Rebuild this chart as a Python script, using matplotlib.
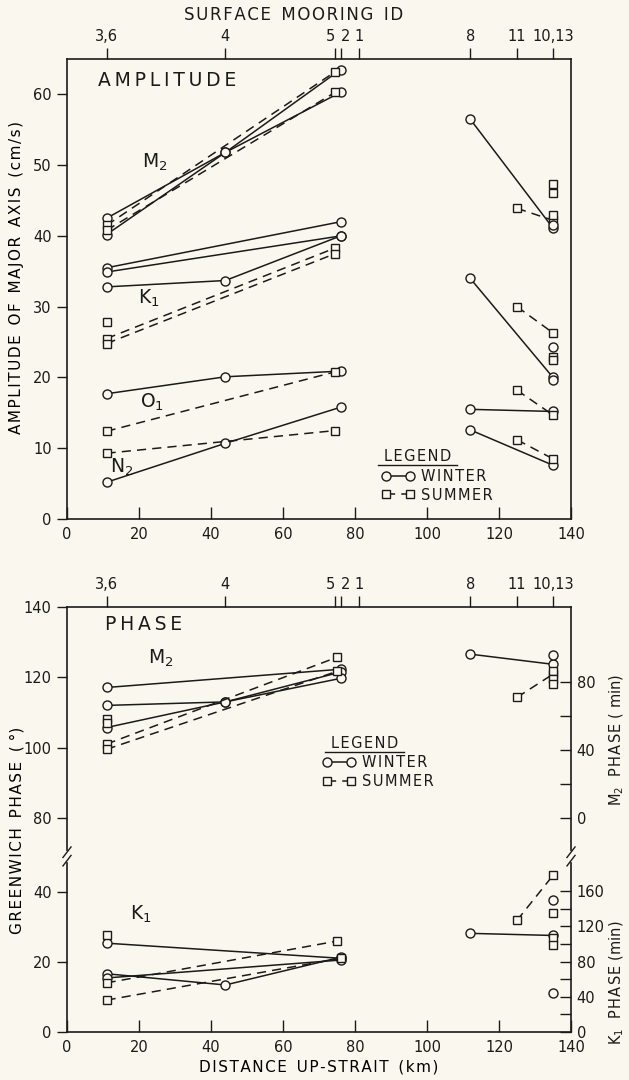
import matplotlib
matplotlib.use("Agg")
import matplotlib.pyplot as plt

# ---------------- data ----------------
mooring_ids = ["3,6", "4", "5", "2", "1", "8", "11", "10,13"]
mooring_km = [11, 44, 74.5, 76, 81, 112, 125, 135]

# Amplitude (cm/s) -- winter lines (x km, y cm/s)
amp_winter_lines = [
    ([11, 44, 76], [42.5, 51.8, 63.5]),
    ([11, 44, 76], [40.2, 51.8, 60.3]),
    ([11, 76], [35.5, 42.0]),
    ([11, 76], [34.9, 40.0]),
    ([11, 44, 76], [32.8, 33.7, 40.0]),
    ([11, 44, 76], [17.7, 20.1, 20.9]),
    ([11, 44, 76], [5.2, 10.7, 15.8]),
    ([112, 135], [56.5, 41.1]),
    ([112, 135], [34.0, 20.0]),
    ([112, 135], [15.5, 15.2]),
    ([112, 135], [12.6, 7.6]),
]
amp_winter_pts_x = [135, 135, 135]
amp_winter_pts_y = [41.5, 24.3, 19.7]

amp_summer_lines = [
    ([11, 74.5], [41.5, 63.2]),
    ([11, 74.5], [40.8, 60.3]),
    ([11, 74.5], [25.5, 38.3]),
    ([11, 74.5], [24.8, 37.5]),
    ([11, 74.5], [12.4, 20.8]),
    ([11, 74.5], [9.3, 12.5]),
    ([125, 135], [43.9, 42.2]),
    ([125, 135], [30.0, 26.3]),
    ([125, 135], [18.2, 14.7]),
    ([125, 135], [11.2, 8.5]),
]
amp_summer_pts_x = [11, 135, 135, 135, 135, 135]
amp_summer_pts_y = [27.8, 47.4, 46.0, 42.9, 22.9, 22.5]

# Greenwich phase (deg) -- M2 (upper part of broken axis)
m2_winter_lines = [
    ([11, 76], [117.1, 122.3]),
    ([11, 44, 76], [112.0, 113.0, 121.5]),
    ([11, 44, 76], [105.7, 113.0, 119.7]),
    ([112, 135], [126.6, 123.7]),
]
m2_winter_pts_x = [135]
m2_winter_pts_y = [126.3]
m2_summer_lines = [
    ([11, 75], [101.0, 125.7]),
    ([11, 75], [99.5, 121.7]),
    ([125, 135], [114.3, 120.9]),
]
m2_summer_pts_x = [11, 11, 135, 135, 135]
m2_summer_pts_y = [108.0, 107.0, 121.7, 119.4, 118.0]

# Greenwich phase (deg) -- K1 (lower part of broken axis)
k1_winter_lines = [
    ([11, 76], [25.3, 21.0]),
    ([11, 44, 76], [16.6, 13.4, 21.3]),
    ([11, 76], [15.4, 20.5]),
    ([112, 135], [28.1, 27.5]),
]
k1_winter_pts_x = [135, 135]
k1_winter_pts_y = [37.5, 11.1]
k1_summer_lines = [
    ([11, 75], [14.0, 25.9]),
    ([11, 76], [9.1, 21.0]),
    ([125, 135], [31.8, 44.6]),
]
k1_summer_pts_x = [11, 135, 135, 135]
k1_summer_pts_y = [27.6, 33.8, 26.7, 24.7]

x_ticks = [0, 20, 40, 60, 80, 100, 120, 140]
amp_ticks = [0, 10, 20, 30, 40, 50, 60]
phase_low_ticks = [0, 20, 40]
phase_up_ticks = [80, 100, 120, 140]
m2_min_ticks = [0, 20, 40, 60, 80]
k1_min_ticks = [0, 20, 40, 60, 80, 100, 120, 140, 160]

# ---------------- style ----------------
BG = "#faf8ee"
INK = "#1a1a1a"
FONT = "DejaVu Sans"
plt.rcParams["font.family"] = [FONT]
plt.rcParams["text.color"] = INK
plt.rcParams["axes.edgecolor"] = INK
plt.rcParams["xtick.color"] = INK
plt.rcParams["ytick.color"] = INK

HAIR = "\u200a"
THIN = "\u2009"


def spaced(s, sep=HAIR):
    return sep.join(s)


OFF = 19.0        # upper part of broken phase axis shifted down by this amount
BREAK = 50.0      # plotted position of the break
M2_DEG_PER_MIN = 360.0 / (12.42 * 60)
K1_DEG_PER_MIN = 360.0 / (23.93 * 60)

W_STYLE = dict(color=INK, lw=1.1, ls="-", marker="o", ms=6.5, mfc=BG, mec=INK, mew=1.0)
S_STYLE = dict(color=INK, lw=1.1, ls=(0, (6, 4)), marker="s", ms=5.3, mfc=BG, mec=INK, mew=1.0)
W_PT = dict(ls="none", marker="o", ms=6.5, mfc=BG, mec=INK, mew=1.0)
S_PT = dict(ls="none", marker="s", ms=5.3, mfc=BG, mec=INK, mew=1.0)

fig = plt.figure(figsize=(6.29, 10.80), dpi=100, facecolor=BG)
ax1 = fig.add_axes([0.1065, 0.5194, 0.8013, 0.4260], facecolor=BG)
ax2 = fig.add_axes([0.1065, 0.0444, 0.8013, 0.3935], facecolor=BG)

for ax in (ax1, ax2):
    for sp in ax.spines.values():
        sp.set_linewidth(1.2)
    ax.set_xlim(0, 140)
    ax.set_xticks(x_ticks)
    ax.set_xticklabels([str(t) for t in x_ticks], fontsize=10.5)
    ax.tick_params(axis="x", direction="in", length=9, width=1.0, pad=6)
    ax.tick_params(axis="y", direction="out", length=7, width=1.0, labelsize=10.5, pad=4)
    # mooring axis on top
    top = ax.secondary_xaxis("top")
    top.set_xticks(mooring_km)
    top.set_xticklabels(mooring_ids, fontsize=10.5)
    top.tick_params(direction="out", length=8, width=1.0, pad=3)
    for lab, mid in zip(top.get_xticklabels(), mooring_ids):
        if mid == "5":
            lab.set_ha("right")
        elif mid == "2":
            lab.set_ha("left")
    top.spines["top"].set_visible(False)

fig.text(0.467, 0.986, spaced("SURFACE") + "  " + spaced("MOORING") + "  " + spaced("ID"),
         fontsize=12, ha="center", va="center")

# ---------------- amplitude panel ----------------
ax1.set_ylim(0, 65)
ax1.set_yticks(amp_ticks)
for i, (x, y) in enumerate(amp_winter_lines):
    ax1.plot(x, y, label="WINTER" if i == 0 else None, **W_STYLE)
for i, (x, y) in enumerate(amp_summer_lines):
    ax1.plot(x, y, label="SUMMER" if i == 0 else None, **S_STYLE)
ax1.plot(amp_winter_pts_x, amp_winter_pts_y, **W_PT)
ax1.plot(amp_summer_pts_x, amp_summer_pts_y, **S_PT)
ax1.set_ylabel("  ".join(spaced(w) for w in "AMPLITUDE OF MAJOR AXIS (cm/s)".split()),
               fontsize=11, labelpad=5)
ax1.yaxis.set_label_coords(-0.085, 0.524)
ax1.text(0.062, 0.954, spaced("AMPLITUDE", THIN), transform=ax1.transAxes, fontsize=13.5,
         va="center", ha="left")
ax1.text(20.8, 50.4, r"M$_2$", fontsize=13.5, va="center")
ax1.text(19.7, 31.2, r"K$_1$", fontsize=13.5, va="center")
ax1.text(20.3, 16.5, r"O$_1$", fontsize=13.5, va="center")
ax1.text(12.0, 7.3, r"N$_2$", fontsize=13.5, va="center")

# ---------------- phase panel ----------------
ax2.set_ylim(0, 140 - OFF)
ax2.set_yticks(phase_low_ticks + [t - OFF for t in phase_up_ticks])
ax2.set_yticklabels([str(t) for t in phase_low_ticks + phase_up_ticks])
for i, (x, y) in enumerate(m2_winter_lines):
    ax2.plot(x, [v - OFF for v in y], label="WINTER" if i == 0 else None, **W_STYLE)
for i, (x, y) in enumerate(m2_summer_lines):
    ax2.plot(x, [v - OFF for v in y], label="SUMMER" if i == 0 else None, **S_STYLE)
for x, y in k1_winter_lines:
    ax2.plot(x, y, **W_STYLE)
for x, y in k1_summer_lines:
    ax2.plot(x, y, **S_STYLE)
ax2.plot(m2_winter_pts_x, [v - OFF for v in m2_winter_pts_y], **W_PT)
ax2.plot(m2_summer_pts_x, [v - OFF for v in m2_summer_pts_y], **S_PT)
ax2.plot(k1_winter_pts_x, k1_winter_pts_y, **W_PT)
ax2.plot(k1_summer_pts_x, k1_summer_pts_y, **S_PT)
ax2.set_ylabel(spaced("GREENWICH") + "  " + spaced("PHASE") + "  ( °)", fontsize=11, labelpad=5)
ax2.yaxis.set_label_coords(-0.085, 0.475)
ax2.set_xlabel(spaced("DISTANCE") + "  " + spaced("UP-STRAIT") + "  " + spaced("(km)"),
               fontsize=11, labelpad=3)
ax2.text(0.075, 0.958, spaced("PHASE", THIN), transform=ax2.transAxes, fontsize=13.5,
         va="center", ha="left")
ax2.text(22.5, 125.5 - OFF, r"M$_2$", fontsize=13.5, va="center")
ax2.text(17.5, 33.5, r"K$_1$", fontsize=13.5, va="center")

# right-hand minute scales
ax2r = ax2.twinx()
ax2r.set_ylim(ax2.get_ylim())
m2_pos = [80 - OFF + m * M2_DEG_PER_MIN for m in m2_min_ticks]
k1_pos = [m * K1_DEG_PER_MIN for m in k1_min_ticks]
ax2r.set_yticks(m2_pos + k1_pos)
ax2r.set_yticklabels([str(m) if m % 40 == 0 else "" for m in m2_min_ticks] +
                     [str(m) if m % 40 == 0 else "" for m in k1_min_ticks], fontsize=10.5)
ax2r.tick_params(axis="y", direction="in", length=8, width=1.0, pad=4)
for sp in ax2r.spines.values():
    sp.set_visible(False)
fig.text(0.981, 0.315, r"M$_2$  " + spaced("PHASE") + " ( min)", rotation=90, fontsize=10.5,
         ha="center", va="center")
fig.text(0.981, 0.090, r"K$_1$  " + spaced("PHASE") + " (min)", rotation=90, fontsize=10.5,
         ha="center", va="center")

# axis break marks
for xa in (0.0, 1.0):
    ax2.plot([xa, xa], [BREAK - 0.9, BREAK + 0.9], transform=ax2.get_yaxis_transform(),
             color=BG, lw=3, clip_on=False, zorder=5)
    for d in (-1.2, 1.2):
        ax2.plot([xa - 0.008, xa + 0.008], [BREAK + d - 1.5, BREAK + d + 1.5],
                 transform=ax2.get_yaxis_transform(), color=INK, lw=1.0, clip_on=False, zorder=6)


# ---------------- legends ----------------
def add_legend(ax, x_title, y_title, y_line, anchor, spacing):
    ax.text(x_title, y_title, spaced("LEGEND"), transform=ax.transAxes, fontsize=10.5,
            ha="center", va="center")
    ax.plot([x_title - 0.078, x_title + 0.078], [y_line, y_line],
            transform=ax.transAxes, color=INK, lw=1.0)
    leg = ax.legend(loc="upper left", bbox_to_anchor=anchor, numpoints=2, frameon=False,
                    handlelength=2.2, handletextpad=0.5, labelspacing=spacing,
                    prop={"size": 10.5}, borderpad=0, borderaxespad=0)
    for t in leg.get_texts():
        t.set_text(spaced(t.get_text()))
    return leg


add_legend(ax1, 0.695, 0.137, 0.117, (0.625, 0.109), 0.25)
add_legend(ax2, 0.590, 0.678, 0.659, (0.508, 0.652), 0.3)

fig.savefig("out.png", dpi=100, facecolor=BG)
